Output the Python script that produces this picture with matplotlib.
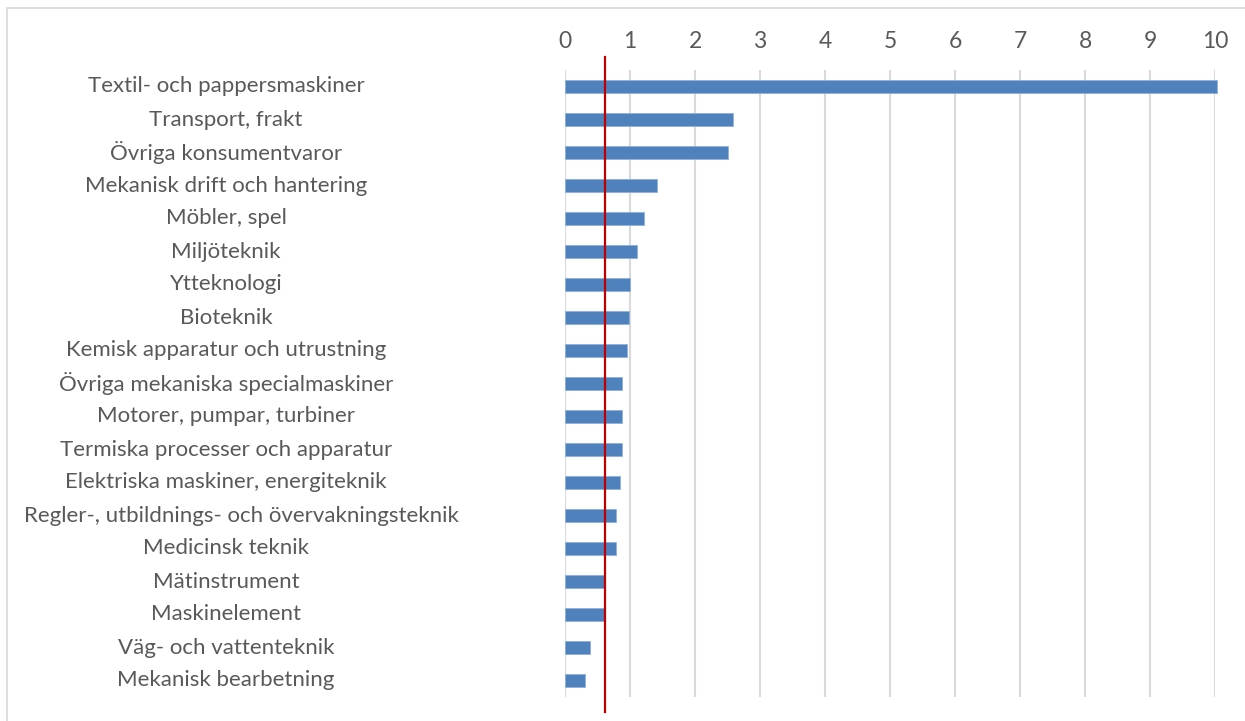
import matplotlib
matplotlib.use("Agg")
import matplotlib.pyplot as plt
import matplotlib.transforms as mtransforms
from matplotlib.patches import Rectangle

categories = [
    "Textil- och pappersmaskiner",
    "Transport, frakt",
    "Övriga konsumentvaror",
    "Mekanisk drift och hantering",
    "Möbler, spel",
    "Miljöteknik",
    "Ytteknologi",
    "Bioteknik",
    "Kemisk apparatur och utrustning",
    "Övriga mekaniska specialmaskiner",
    "Motorer, pumpar, turbiner",
    "Termiska processer och apparatur",
    "Elektriska maskiner, energiteknik",
    "Regler-, utbildnings- och övervakningsteknik",
    "Medicinsk teknik",
    "Mätinstrument",
    "Maskinelement",
    "Väg- och vattenteknik",
    "Mekanisk bearbetning",
]
values = [10.03, 2.58, 2.50, 1.41, 1.22, 1.11, 1.00, 0.99, 0.96, 0.88, 0.88,
          0.87, 0.84, 0.78, 0.78, 0.61, 0.61, 0.38, 0.30]
reference_value = 0.62
xticks = list(range(0, 11))

W, H = 1245, 721
fig = plt.figure(figsize=(W / 100, H / 100), dpi=100)
font = "Lato"
txt_color = "#595959"

ax = fig.add_axes([565 / W, 1 - 697 / H, 650 / W, 627 / H])
n = len(categories)
ypos = list(range(n))
ax.barh(ypos, values, height=0.37, color="#4f81bd", edgecolor="#8eb0dc",
        linewidth=0.6, zorder=3, clip_on=False)
ax.set_ylim(n - 0.5, -0.5)
ax.set_xlim(0, 10)
ax.set_xticks(xticks)
ax.xaxis.tick_top()
ax.tick_params(axis="x", length=0, pad=13, labelsize=16.5, labelcolor=txt_color)
for lab in ax.get_xticklabels():
    lab.set_fontfamily(font)
ax.set_yticks([])
ax.grid(axis="x", color="#d9d9d9", linewidth=1.5, zorder=0)
for s in ax.spines.values():
    s.set_visible(False)

ax.axvline(reference_value, ymin=(697 - 712) / 627, ymax=(697 - 57) / 627,
           color="#c00000", linewidth=1.6, zorder=5, clip_on=False)

trans = mtransforms.blended_transform_factory(fig.transFigure, ax.transData)
fig.canvas.draw()
renderer = fig.canvas.get_renderer()
for y, name in zip(ypos, categories):
    t = ax.text(226 / W, y, name, transform=trans, ha="center", va="center",
                fontsize=16, color=txt_color, fontfamily=font)
    bb = t.get_window_extent(renderer)
    if bb.x0 < 24:
        t.set_ha("left")
        t.set_x(24 / W)

fig.patches.append(Rectangle((7 / W, -0.1), 1.2, 1 - 8 / H + 0.1,
                             transform=fig.transFigure, fill=False,
                             edgecolor="#d9d9d9", linewidth=1.2))

fig.savefig("out.png", dpi=100, facecolor="white")
